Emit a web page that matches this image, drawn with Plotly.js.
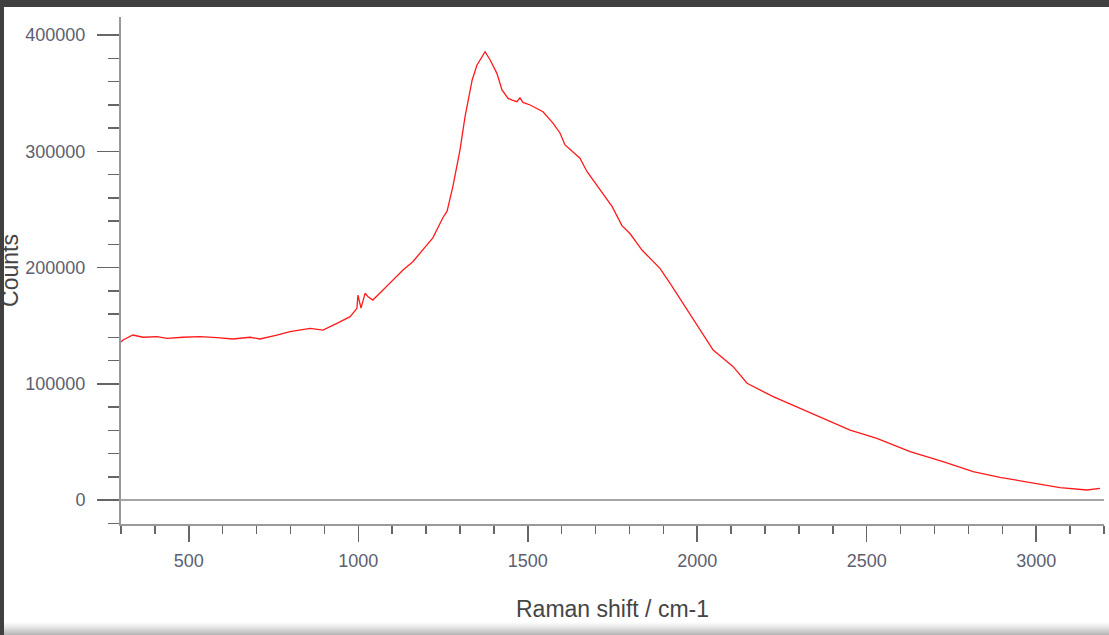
<!DOCTYPE html>
<html>
<head>
<meta charset="utf-8">
<script src="https://cdn.plot.ly/plotly-3.0.1.min.js"></script>
<style>
  html, body { margin: 0; padding: 0; background: #404040; }
  #frame { position: relative; width: 1109px; height: 635px; background: #ffffff; overflow: hidden; }
  #chart { position: absolute; left: -3px; top: 7px; width: 1112px; height: 615px; }
  #topbar { position: absolute; left: 0; top: 0; width: 1109px; height: 7px; background: #404040; z-index: 5; }
  #sidebar { position: absolute; left: 0; top: 0; width: 4px; height: 635px; background: #404040; z-index: 5; }
  #foot { position: absolute; left: 4px; top: 622px; width: 1105px; height: 13px; z-index: 4;
          background: linear-gradient(#ffffff, #e6e6e6 40%, #b4b4b4); }
</style>
</head>
<body>
<div id="frame">
  <div id="chart"></div>
  <div id="foot"></div>
  <div id="topbar"></div>
  <div id="sidebar"></div>
</div>
<script>
// Raman spectrum: shift (cm-1) and detector counts
const ramanShift = [
  300, 306, 335, 365, 406, 436, 483, 533, 583, 630, 681, 710, 760, 799, 858, 896, 937, 976,
  996, 999, 1008, 1020, 1029, 1043, 1073, 1102, 1132, 1161, 1220, 1250, 1262, 1279, 1300,
  1315, 1336, 1350, 1374, 1389, 1409, 1424, 1442, 1454, 1468, 1477, 1486, 1507, 1545, 1575,
  1595, 1610, 1654, 1675, 1713, 1749, 1778, 1802, 1837, 1890, 1920, 1970, 2008, 2047, 2106,
  2147, 2224, 2303, 2371, 2451, 2530, 2628, 2725, 2814, 2893, 2991, 3070, 3150, 3188
];
const counts = [
  136000, 137600, 141900, 140000, 140500, 139100, 140000, 140500, 139600, 138500, 140000,
  138500, 141900, 144800, 147700, 146200, 152000, 157700,
  164900, 176300, 165000, 177800, 174900, 172000, 180600, 189200, 197800, 205000, 225500,
  243000, 248500, 269500, 301000,
  329700, 361300, 374000, 385600, 378500, 367000, 352700, 345500, 344000, 342600, 346000,
  342000, 339800, 334000, 324000,
  315700, 305400, 294000, 282400, 266700, 252300, 236000, 229000, 215000, 199300, 186400,
  163400, 146200, 129000, 114700,
  100400, 88900, 79000, 70000, 60200, 53000, 41600, 33000, 24400, 19500, 14300, 10600, 8600, 10000
];

// Axis tick values
const xTickVals = [500, 1000, 1500, 2000, 2500, 3000];
const yTickVals = [0, 100000, 200000, 300000, 400000];

const trace = {
  x: ramanShift,
  y: counts,
  type: 'scatter',
  mode: 'lines',
  line: { color: '#ff1a1a', width: 1.3 },
  hoverinfo: 'x+y'
};

const tickFont = { family: '"Liberation Sans", Arial, sans-serif', size: 18, color: '#5c6070' };
const titleFont = { family: '"Liberation Sans", Arial, sans-serif', size: 23, color: '#454545' };

const layout = {
  width: 1112,
  height: 615,
  margin: { l: 124, r: 5, t: 10, b: 98 },
  paper_bgcolor: '#ffffff',
  plot_bgcolor: '#ffffff',
  showlegend: false,
  xaxis: {
    range: [300, 3200],
    tickvals: xTickVals,
    ticktext: xTickVals.map(String),
    ticks: 'outside',
    ticklen: 16,
    tickwidth: 1.5,
    tickcolor: '#666',
    tickfont: tickFont,
    ticklabelstandoff: 3,
    minor: { dtick: 100, tick0: 0, ticks: 'outside', ticklen: 8, tickwidth: 1.5, tickcolor: '#666', showgrid: false },
    showline: true,
    linecolor: '#999',
    linewidth: 2,
    showgrid: false,
    zeroline: false,
    title: { text: 'Raman shift / cm-1', font: titleFont, standoff: 32 }
  },
  yaxis: {
    range: [-20645, 415484],
    tickvals: yTickVals,
    ticktext: yTickVals.map(String),
    ticks: 'outside',
    ticklen: 22,
    tickwidth: 1.5,
    tickcolor: '#666',
    tickfont: tickFont,
    ticklabelstandoff: 8,
    minor: { dtick: 20000, tick0: 0, ticks: 'outside', ticklen: 11, tickwidth: 1.5, tickcolor: '#666', showgrid: false },
    showline: true,
    linecolor: '#999',
    linewidth: 2,
    showgrid: false,
    zeroline: true,
    zerolinecolor: '#a6a6a6',
    zerolinewidth: 2.5,
    title: { text: 'Counts', font: titleFont, standoff: 30 }
  }
};

Plotly.newPlot('chart', [trace], layout, { displayModeBar: false, staticPlot: true });
</script>
</body>
</html>
